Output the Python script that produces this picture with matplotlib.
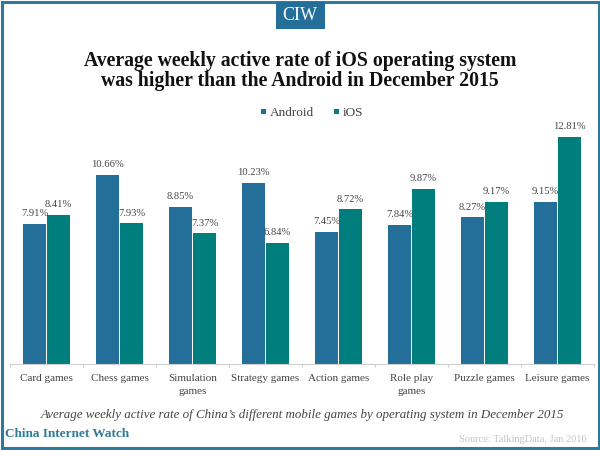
import matplotlib
matplotlib.use('Agg')
import matplotlib.pyplot as plt
from matplotlib.patches import Rectangle

categories = ['Card games', 'Chess games', 'Simulation\ngames', 'Strategy games',
              'Action games', 'Role play\ngames', 'Puzzle games', 'Leisure games']
android = [7.91, 10.66, 8.85, 10.23, 7.45, 7.84, 8.27, 9.15]
ios = [8.41, 7.93, 7.37, 6.84, 8.72, 9.87, 9.17, 12.81]

plt.rcParams['font.family'] = ['Liberation Serif', 'DejaVu Serif']

blue = '#246f9a'
green = '#007d7d'
grey = '#444444'
W, H = 600, 450

fig = plt.figure(figsize=(6, 4.5), dpi=100)

# background layer in pixel coordinates
bg = fig.add_axes([0, 0, 1, 1])
bg.set_xlim(0, W)
bg.set_ylim(H, 0)
bg.axis('off')
bg.add_patch(Rectangle((1.5, 2), W - 3, H - 4, fill=False, ec='#2f7a99', lw=2.2))
bg.add_patch(Rectangle((276, 2), 49, 27, fc=blue, ec='none'))
bg.text(300, 16, 'CIW', color='white', fontsize=13, ha='center', va='center')
bg.text(300, 61, 'Average weekly active rate of iOS operating system', fontsize=14.2,
        fontweight='bold', color='#111111', ha='center', va='center')
bg.text(300, 81, 'was higher than the Android in December 2015', fontsize=14.2,
        fontweight='bold', color='#111111', ha='center', va='center')

# legend
bg.add_patch(Rectangle((261, 109), 5, 5, fc=blue, ec='none'))
bg.text(270, 112.5, 'Android', fontsize=9.5, color=grey, va='center')
bg.add_patch(Rectangle((334, 109), 5, 5, fc=green, ec='none'))
bg.text(343, 112.5, 'iOS', fontsize=9.5, color=grey, va='center')

bg.text(302, 415, 'Average weekly active rate of China\u2019s different mobile games by operating system in December 2015',
        fontsize=9.4, style='italic', color=grey, ha='center', va='center')
bg.text(5, 434, 'China Internet Watch', fontsize=9.5, fontweight='bold', color='#2f7a99', va='center')
bg.text(587, 439, 'Source: TalkingData, Jan 2016', fontsize=7.5, color='#c4c4c4', ha='right', va='center')

# chart area
left, right, top, bottom = 10, 594, 120, 364
ax = fig.add_axes([left / W, 1 - bottom / H, (right - left) / W, (bottom - top) / H])
ax.patch.set_alpha(0)
ax.set_xlim(-0.5, len(categories) - 0.5)
ax.set_ylim(0, (bottom - top) / 17.72)

x = list(range(len(categories)))
bar_w = 0.315
rects1 = ax.bar([i - bar_w / 2 - 0.005 for i in x], android, width=bar_w, color=blue, label='Android')
rects2 = ax.bar([i + bar_w / 2 + 0.005 for i in x], ios, width=bar_w, color=green, label='iOS')

for rect, val in list(zip(rects1, android)) + list(zip(rects2, ios)):
    ax.text(rect.get_x() + rect.get_width() / 2, val + 0.33, '%.2f%%' % val, fontsize=7.6,
            color=grey, ha='center', va='bottom')

for s in ['top', 'left', 'right']:
    ax.spines[s].set_visible(False)
ax.spines['bottom'].set_color('#d0d0d0')
ax.set_yticks([])
ax.set_xticks([i - 0.5 for i in x] + [len(x) - 0.5])
ax.set_xticklabels([])
ax.tick_params(axis='x', length=2, color='#d0d0d0')
ax.set_xticks(x, minor=True)
ax.set_xticklabels(categories, minor=True, fontsize=8, color=grey, linespacing=1.55)
ax.tick_params(axis='x', which='minor', length=0, pad=7)

plt.savefig('out.png', dpi=100)
